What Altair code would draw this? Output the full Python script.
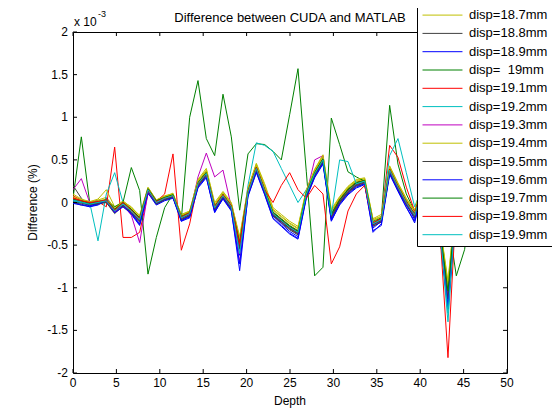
import altair as alt
import pandas as pd

depth = [0.0, 0.96, 1.92, 2.88, 3.84, 4.8, 5.76, 6.72, 7.68, 8.64, 9.6, 10.56, 11.52,
         12.48, 13.44, 14.4, 15.36, 16.32, 17.28, 18.24, 19.2, 20.16, 21.12, 22.08,
         23.04, 24.0, 24.96, 25.92, 26.88, 27.84, 28.8, 29.76, 30.72, 31.68, 32.64,
         33.6, 34.56, 35.52, 36.48, 37.44, 38.4, 39.36, 40.32, 41.28, 42.24, 43.2,
         44.16, 45.12, 46.08]

disp_labels = ["disp=\u00a0\u00a018mm", "disp=18.1mm", "disp=18.2mm", "disp=18.3mm",
               "disp=18.4mm", "disp=18.5mm", "disp=18.6mm", "disp=18.7mm",
               "disp=18.8mm", "disp=18.9mm", "disp=\u00a0\u00a019mm", "disp=19.1mm",
               "disp=19.2mm", "disp=19.3mm", "disp=19.4mm", "disp=19.5mm",
               "disp=19.6mm", "disp=19.7mm", "disp=19.8mm", "disp=19.9mm"]

line_colors = ["#BFBF00", "#404040", "#0000FF", "#008000", "#FF0000", "#00BFBF", "#BF00BF",
               "#BFBF00", "#404040", "#0000FF", "#008000", "#FF0000", "#00BFBF", "#BF00BF",
               "#BFBF00", "#404040", "#0000FF", "#008000", "#FF0000", "#00BFBF"]

# values in units of 1e-3
s18_0 = [0.05,0.02,0.00,0.03,0.06,-0.06,0.02,-0.06,-0.15,0.18,0.03,0.08,0.10,-0.14,-0.10,0.26,0.38,-0.02,0.12,-0.01,-0.42,0.16,0.45,0.20,-0.08,-0.16,-0.24,-0.30,0.14,0.38,0.55,-0.10,0.06,0.18,0.26,0.28,-0.20,-0.16,0.42,0.22,0.04,-0.10,0.25,0.35,-0.25,-0.95,0.05,0.35,0.25]
s18_1 = [0.20,0.05,-0.04,0.02,0.00,-0.12,-0.05,-0.13,-0.23,0.12,-0.02,0.03,0.06,-0.20,-0.16,0.19,0.31,-0.09,0.05,-0.08,-0.55,0.09,0.37,0.11,-0.16,-0.24,-0.32,-0.38,0.07,0.31,0.47,-0.18,-0.01,0.11,0.19,0.22,-0.28,-0.23,0.35,0.15,-0.03,-0.18,0.18,0.28,-0.33,-1.15,-0.03,0.28,0.18]
s18_2 = [0.00,-0.02,-0.05,-0.02,0.05,-0.08,-0.04,-0.12,-0.25,0.13,0.01,0.04,0.07,-0.22,-0.15,0.20,0.33,-0.10,0.06,-0.06,-0.62,0.10,0.39,0.12,-0.15,-0.25,-0.34,-0.40,0.08,0.33,0.49,-0.20,0.00,0.12,0.20,0.24,-0.30,-0.22,0.36,0.16,-0.02,-0.20,0.19,0.29,-0.32,-1.20,-0.02,0.29,0.19]
s18_3 = [0.05,0.77,0.00,0.02,0.00,-0.08,0.00,-0.08,-0.18,0.17,0.02,0.06,0.09,-0.16,-0.11,0.24,0.36,-0.04,0.10,-0.03,-0.46,0.14,0.42,0.16,-0.11,-0.19,-0.27,-0.33,0.12,0.36,0.52,-0.13,0.04,0.16,0.24,0.26,-0.22,-0.18,0.40,0.20,0.02,-0.13,0.22,0.32,-0.28,-1.05,0.02,0.32,0.22]
s18_4 = [0.08,0.03,-0.01,0.01,-0.05,0.65,-0.41,-0.41,-0.35,0.10,0.01,0.06,0.08,-0.17,-0.12,0.23,0.35,-0.05,0.09,-0.04,-0.48,0.13,0.41,0.15,-0.12,-0.20,-0.28,-0.34,0.11,0.35,0.51,-0.14,0.03,0.15,0.23,0.26,-0.24,-0.19,0.39,0.19,0.01,-0.14,0.21,0.31,-0.29,-1.12,0.01,0.31,0.21]
s18_5 = [0.04,0.02,0.00,-0.45,0.10,0.35,0.00,-0.09,-0.19,0.16,0.00,0.05,0.08,-0.18,-0.13,0.22,0.34,-0.06,0.08,-0.05,-0.52,0.12,0.40,0.14,-0.13,-0.21,-0.29,-0.35,0.10,0.34,0.50,-0.15,0.02,0.14,0.22,0.25,-0.25,-0.20,0.38,0.18,0.00,-0.15,0.20,0.30,-0.30,-1.40,0.00,0.30,0.20]
s18_6 = [0.03,0.01,-0.03,-0.01,0.03,-0.09,-0.01,-0.11,-0.22,0.14,-0.01,0.04,0.07,-0.19,-0.14,0.30,0.58,0.30,0.38,-0.05,-0.70,0.11,0.39,0.13,-0.14,-0.22,-0.30,-0.36,0.09,0.33,0.49,-0.16,0.01,0.13,0.21,0.24,-0.26,-0.21,0.37,0.17,-0.01,-0.16,0.19,0.29,-0.31,-1.08,-0.01,0.29,0.19]
s18_7 = [0.10,0.04,0.01,0.04,0.15,-0.05,0.01,-0.07,-0.17,0.16,0.02,0.07,0.11,-0.15,-0.11,0.25,0.37,-0.03,0.11,-0.02,-0.44,0.15,0.44,0.18,-0.09,-0.17,-0.25,-0.31,0.13,0.37,0.54,-0.11,0.05,0.17,0.25,0.27,-0.21,-0.17,0.41,0.21,0.03,-0.11,0.24,0.34,-0.26,-0.98,0.04,0.34,0.24]
s18_8 = [0.00,-0.03,-0.03,-0.02,0.00,-0.13,-0.04,-0.12,-0.22,0.13,-0.02,0.03,0.06,-0.20,-0.15,0.20,0.32,-0.08,0.06,-0.07,-0.54,0.10,0.38,0.12,-0.15,-0.23,-0.31,-0.37,0.08,0.32,0.48,-0.17,0.00,0.12,0.20,0.23,-0.27,-0.22,0.36,0.16,-0.02,-0.17,0.18,0.28,-0.32,-1.14,-0.02,0.28,0.18]
s18_9 = [0.02,0.00,-0.04,-0.01,0.04,-0.11,-0.03,-0.14,-0.27,0.12,-0.01,0.04,0.06,-0.21,-0.17,0.18,0.30,-0.12,0.05,-0.09,-0.80,0.08,0.36,0.10,-0.18,-0.27,-0.36,-0.42,0.06,0.30,0.46,-0.22,-0.02,0.10,0.18,0.22,-0.35,-0.25,0.34,0.14,-0.05,-0.24,0.17,0.27,-0.35,-1.25,-0.05,0.27,0.17]
s19_0 = [0.00,0.00,-0.02,0.00,0.02,-0.05,0.00,0.41,0.14,-0.84,-0.41,-0.06,0.10,-0.20,1.00,1.43,0.75,0.55,1.27,0.77,-0.09,0.57,0.69,0.68,0.60,0.50,1.03,1.57,0.36,-0.86,-0.76,0.99,0.68,0.36,0.30,0.25,-0.25,-0.18,1.14,0.45,0.10,-0.10,0.20,0.30,0.10,-0.20,-0.86,-0.55,0.30]
s19_1 = [0.06,0.02,0.00,0.01,0.03,-0.08,0.00,-0.09,-0.19,0.16,0.01,0.10,0.57,-0.56,-0.25,0.22,0.34,-0.05,0.09,-0.04,-0.49,0.13,0.41,0.15,-0.12,-0.20,-0.28,-0.34,0.11,0.35,0.51,-0.14,0.03,0.15,0.23,0.26,-0.24,-0.19,0.67,0.53,0.18,-0.10,0.21,0.31,-0.29,-1.10,0.01,0.31,0.21]
s19_2 = [0.03,0.01,-0.01,0.01,0.02,-0.09,-0.01,-0.09,-0.20,0.15,0.00,0.05,0.08,-0.18,-0.13,0.22,0.34,-0.06,0.08,-0.05,-0.50,0.20,0.70,0.67,0.60,0.40,0.20,0.00,0.15,0.34,0.50,-0.15,0.02,0.14,0.22,0.25,-0.25,-0.20,0.55,0.75,0.35,-0.05,0.20,0.30,-0.30,-1.15,0.00,0.30,0.20]
s19_3 = [0.15,0.28,0.00,0.02,0.01,-0.11,-0.03,-0.15,-0.47,0.12,0.00,0.05,0.07,-0.19,-0.14,0.21,0.33,-0.07,0.07,-0.06,-0.52,0.11,0.39,0.13,-0.14,-0.22,-0.30,-0.36,0.09,0.50,0.55,-0.16,0.01,0.13,0.21,0.24,-0.26,-0.21,0.37,0.17,-0.01,-0.16,0.19,0.29,-0.31,-1.12,-0.01,0.29,0.19]
s19_4 = [0.07,0.03,0.01,0.02,0.04,-0.07,0.01,-0.05,-0.16,0.17,0.03,0.07,0.10,-0.15,-0.10,0.27,0.40,0.00,0.13,0.00,-0.40,0.17,0.46,0.22,-0.06,-0.14,-0.22,-0.28,0.15,0.39,0.56,-0.08,0.07,0.19,0.27,0.29,-0.19,-0.14,0.43,0.23,0.05,-0.09,0.26,0.36,-0.24,-0.92,0.06,0.36,0.26]
s19_5 = [0.01,-0.01,-0.02,-0.01,0.01,-0.10,-0.03,-0.11,-0.21,0.14,-0.01,0.04,0.07,-0.19,-0.14,0.21,0.33,-0.07,0.07,-0.06,-0.52,0.11,0.39,0.13,-0.14,-0.22,-0.30,-0.36,0.09,0.33,0.49,-0.16,0.01,0.13,0.21,0.24,-0.26,-0.21,0.37,0.17,-0.01,-0.16,0.19,0.29,-0.31,-1.13,-0.01,0.29,0.19]
s19_6 = [-0.01,-0.03,-0.05,-0.03,0.03,-0.12,-0.05,-0.13,-0.26,0.11,-0.03,0.02,0.05,-0.22,-0.18,0.17,0.29,-0.11,0.04,-0.10,-0.72,0.07,0.35,0.09,-0.19,-0.28,-0.37,-0.43,0.05,0.29,0.45,-0.21,-0.03,0.09,0.17,0.21,-0.33,-0.27,0.33,0.13,-0.06,-0.22,0.16,0.26,-0.36,-1.22,-0.06,0.26,0.16]
s19_7 = [0.04,0.02,-0.01,0.01,0.03,-0.08,0.00,-0.08,-0.18,0.16,0.02,0.06,0.09,-0.17,-0.12,0.23,0.35,-0.05,0.09,-0.04,-0.47,0.13,0.41,0.15,-0.12,-0.20,-0.28,-0.34,0.11,0.35,0.51,-0.14,0.03,0.15,0.23,0.26,-0.24,-0.19,0.39,0.19,0.01,-0.14,0.21,0.31,-0.29,-1.04,0.01,0.31,0.21]
s19_8 = [0.05,0.02,0.00,0.01,0.03,-0.09,0.00,-0.09,-0.19,0.15,0.01,0.05,0.08,-0.17,-0.12,0.22,0.34,-0.05,0.09,-0.04,-0.49,0.13,0.41,0.15,0.00,0.20,0.35,0.15,0.05,0.20,0.10,-0.72,-0.52,-0.10,0.10,0.20,-0.24,-0.19,0.39,0.19,0.01,-0.14,0.21,0.31,-0.29,-1.82,0.01,0.31,0.21]
s19_9 = [0.02,0.00,-0.02,0.00,0.02,-0.10,-0.02,-0.10,-0.20,0.15,0.00,0.05,0.08,-0.18,-0.13,0.22,0.34,-0.06,0.08,-0.05,-0.60,0.12,0.40,0.14,-0.13,-0.21,-0.29,-0.35,0.10,0.34,0.50,-0.15,0.50,0.48,0.22,0.25,-0.25,-0.20,0.38,0.18,0.00,-0.15,0.20,0.30,-0.30,-1.30,0.00,0.30,0.20]

series = [s18_0, s18_1, s18_2, s18_3, s18_4, s18_5, s18_6, s18_7, s18_8, s18_9,
          s19_0, s19_1, s19_2, s19_3, s19_4, s19_5, s19_6, s19_7, s19_8, s19_9]

x_ticks = [0, 5, 10, 15, 20, 25, 30, 35, 40, 45, 50]
x_tick_labels = ["0", "5", "10", "15", "20", "25", "30", "35", "40", "45", "50"]
y_ticks = [-2, -1.5, -1, -0.5, 0, 0.5, 1, 1.5, 2]
y_tick_labels = ["-2", "-1.5", "-1", "-0.5", "0", "0.5", "1", "1.5", "2"]

title_text = "Difference between CUDA and MATLAB"
x_title = "Depth"
y_title = "Difference (%)"

rows = []
for lab, vals in zip(disp_labels, series):
    for d, v in zip(depth, vals):
        rows.append({"depth": d, "diff": v, "disp": lab})
df = pd.DataFrame(rows)
xt = pd.DataFrame({"v": x_ticks, "lab": x_tick_labels})
yt = pd.DataFrame({"v": y_ticks, "lab": y_tick_labels})

FONT = "Liberation Sans"
W, H = 434, 341

xscale = alt.Scale(domain=[0, 50], nice=False, zero=False)
yscale = alt.Scale(domain=[-2, 2], nice=False, zero=False)

lines = alt.Chart(df).mark_line(strokeWidth=1, clip=True).encode(
    x=alt.X("depth:Q", scale=xscale, axis=None),
    y=alt.Y("diff:Q", scale=yscale, axis=None),
    color=alt.Color("disp:N", sort=disp_labels,
                    scale=alt.Scale(domain=disp_labels, range=line_colors),
                    legend=alt.Legend(title=None, orient="none", legendX=344, legendY=-156,
                                      symbolType="M-1,0H5.15", symbolSize=169,
                                      symbolStrokeWidth=1, symbolOffset=1,
                                      labelFont=FONT, labelFontSize=13,
                                      labelColor="black", rowPadding=4.3, padding=4,
                                      fillColor="white", strokeColor="black",
                                      labelOffset=33, symbolLimit=0)),
    order=alt.Order("depth:Q"),
)

tick_style = dict(color="black", strokeWidth=1)
bottom_ticks = alt.Chart(xt).mark_rule(**tick_style).encode(
    x=alt.X("v:Q", scale=xscale, axis=None), y=alt.value(H), y2=alt.value(H - 4))
top_ticks = alt.Chart(xt).mark_rule(**tick_style).encode(
    x=alt.X("v:Q", scale=xscale, axis=None), y=alt.value(0), y2=alt.value(4))
left_ticks = alt.Chart(yt).mark_rule(**tick_style).encode(
    y=alt.Y("v:Q", scale=yscale, axis=None), x=alt.value(0), x2=alt.value(4))
right_ticks = alt.Chart(yt).mark_rule(**tick_style).encode(
    y=alt.Y("v:Q", scale=yscale, axis=None), x=alt.value(W), x2=alt.value(W - 4))

x_labels = alt.Chart(xt).mark_text(font=FONT, fontSize=12, color="black",
                                   align="center", baseline="top").encode(
    x=alt.X("v:Q", scale=xscale, axis=None), y=alt.value(H + 5), text="lab:N")
y_labels = alt.Chart(yt).mark_text(font=FONT, fontSize=12, color="black",
                                   align="right", baseline="middle").encode(
    y=alt.Y("v:Q", scale=yscale, axis=None), x=alt.value(-5), text="lab:N")

x_title_mark = alt.Chart(pd.DataFrame({"t": [x_title]})).mark_text(
    font=FONT, fontSize=12, color="black", align="center", baseline="top"
).encode(x=alt.value(W / 2), y=alt.value(H + 23), text="t:N")
y_title_mark = alt.Chart(pd.DataFrame({"t": [y_title]})).mark_text(
    font=FONT, fontSize=12, color="black", align="center", baseline="middle", angle=270
).encode(x=alt.value(-40), y=alt.value(H / 2), text="t:N")
title_mark = alt.Chart(pd.DataFrame({"t": [title_text]})).mark_text(
    font=FONT, fontSize=13, color="black", align="center", baseline="alphabetic"
).encode(x=alt.value(W / 2), y=alt.value(-10), text="t:N")

exp_base = alt.Chart(pd.DataFrame({"t": ["x 10"]})).mark_text(
    font=FONT, fontSize=12, align="left", baseline="alphabetic", color="black"
).encode(x=alt.value(1), y=alt.value(-6), text="t:N")
exp_sup = alt.Chart(pd.DataFrame({"t": ["-3"]})).mark_text(
    font=FONT, fontSize=9, align="left", baseline="alphabetic", color="black"
).encode(x=alt.value(25), y=alt.value(-15), text="t:N")

chart = alt.layer(lines, bottom_ticks, top_ticks, left_ticks, right_ticks,
                  x_labels, y_labels, x_title_mark, y_title_mark, title_mark,
                  exp_base, exp_sup).properties(
    width=W, height=H,
    autosize=alt.AutoSizeParams(type="none"),
    padding={"left": 65, "top": 24, "right": 45, "bottom": 36},
    background="white",
).configure_view(stroke="black", strokeWidth=1)

chart.save("out.html", embed_options={"renderer": "svg", "actions": False})
